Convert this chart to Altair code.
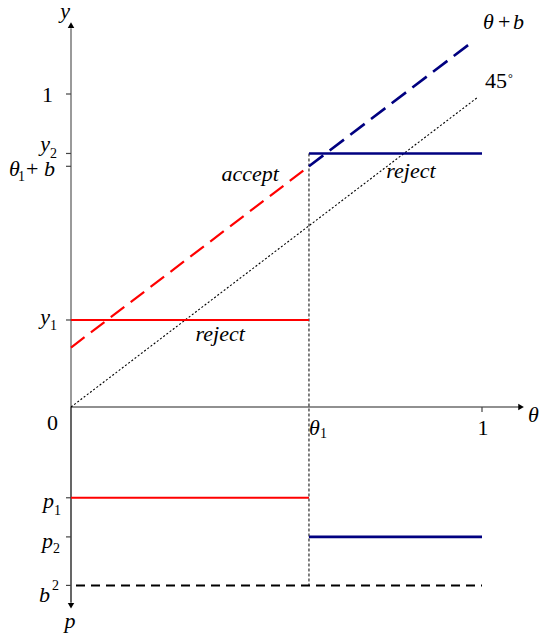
import altair as alt
import pandas as pd

# ---- model values -------------------------------------------------------
THETA_1 = 0.579          # threshold type
B = 0.19                 # bias b
Y1 = 0.278               # low report
Y2 = 0.81                # high report
THETA_LINE_END = 0.98    # where the θ+b line stops
DIAG_END = 0.99          # where the 45° line stops

# lower panel: values measured downward along the p axis
P_LABELS = ["p1", "p2", "b2"]
P_VALUES = [0.29, 0.415, 0.57]
P1, P2, B_SQ = P_VALUES

# axis extents
Y_AXIS_TOP = 1.21
P_AXIS_END = 0.625
THETA_AXIS_END = 1.09

# annotation anchors (θ, y)
WORD_LABELS = ["accept", "reject", "reject"]
WORD_X = [0.436, 0.363, 0.827]
WORD_Y = [0.722, 0.211, 0.732]

# ---- canvas / scales ----------------------------------------------------
W, H = 544, 640
ORIGIN_X, ORIGIN_Y = 71, 407       # pixel location of (0, 0)
UNIT_X, UNIT_Y = 411, 313          # pixels per unit along θ and y

xs = alt.Scale(domain=[-ORIGIN_X / UNIT_X, (W - ORIGIN_X) / UNIT_X], nice=False, zero=False)
ys = alt.Scale(domain=[-(H - ORIGIN_Y) / UNIT_Y, ORIGIN_Y / UNIT_Y], nice=False, zero=False)

FONT = "Liberation Serif"
RED = "#ff0000"
NAVY = "#000080"


def seg(rows, color, width, dash=None):
    df = pd.DataFrame(rows, columns=["x", "y", "x2", "y2"])
    kw = dict(color=color, strokeWidth=width)
    if dash:
        kw["strokeDash"] = dash
    return alt.Chart(df).mark_rule(**kw).encode(
        x=alt.X("x:Q", scale=xs, axis=None),
        y=alt.Y("y:Q", scale=ys, axis=None),
        x2="x2:Q",
        y2="y2:Q",
    )


def arrow(x, y, shape):
    df = pd.DataFrame({"x": [x], "y": [y]})
    return alt.Chart(df).mark_point(shape=shape, filled=True, size=42, color="black", opacity=1).encode(
        x=alt.X("x:Q", scale=xs, axis=None),
        y=alt.Y("y:Q", scale=ys, axis=None),
    )


def txt(x, y, text, dx=0, dy=0, size=22, italic=True, align="left"):
    df = pd.DataFrame({"x": [x], "y": [y], "t": [text]})
    return alt.Chart(df).mark_text(
        dx=dx, dy=dy, align=align, baseline="alphabetic", font=FONT,
        fontSize=size, fontStyle="italic" if italic else "normal", color="black",
    ).encode(
        x=alt.X("x:Q", scale=xs, axis=None),
        y=alt.Y("y:Q", scale=ys, axis=None),
        text="t:N",
    )


layers = []

# axes
layers.append(seg([[0, 0, 0, Y_AXIS_TOP]], "#9a9a9a", 2))
layers.append(seg([[0, 0, 0, -P_AXIS_END]], "black", 1.2))
layers.append(seg([[0, 0, THETA_AXIS_END, 0]], "#222222", 1.2))
layers.append(arrow(0, Y_AXIS_TOP + 0.01, "triangle-up"))
layers.append(arrow(0, -P_AXIS_END - 0.01, "triangle-down"))
layers.append(arrow(THETA_AXIS_END + 0.005, 0, "triangle-right"))

# ticks on the vertical axis
tick_len = 5 / UNIT_X
tick_levels = [1, Y2, THETA_1 + B, Y1, -P1, -P2, -B_SQ]
layers.append(seg([[-tick_len, v, 0, v] for v in tick_levels], "#444444", 1.2))
# tick at θ = 1
layers.append(seg([[1, 0, 1, -5 / UNIT_Y]], "#444444", 1.2))

# 45° line and θ1 guide
layers.append(seg([[0, 0, DIAG_END, DIAG_END]], "black", 1.1, [2, 2]))
layers.append(seg([[THETA_1, Y2, THETA_1, -B_SQ]], "black", 1, [3, 2]))

# θ + b line: red below θ1, navy above
layers.append(seg([[0, B, THETA_1, THETA_1 + B]], RED, 2.2, [17, 8]))
layers.append(seg([[THETA_1, THETA_1 + B, THETA_LINE_END, THETA_LINE_END + B]], NAVY, 2.6, [18, 8]))

# report levels
layers.append(seg([[0, Y1, THETA_1, Y1]], RED, 2.2))
layers.append(seg([[THETA_1, Y2, 1, Y2]], NAVY, 2.6))

# lower panel
layers.append(seg([[0, -P1, THETA_1, -P1]], RED, 2.2))
layers.append(seg([[THETA_1, -P2, 1, -P2]], NAVY, 2.6))
layers.append(seg([[5 / UNIT_X, -B_SQ, 1, -B_SQ]], "black", 2, [9, 6]))

# vertical axis labels
layers.append(txt(0, Y_AXIS_TOP, "y", dx=-6, dy=-10, align="center"))
layers.append(txt(0, 1, "1", dx=-18, dy=8, italic=False, align="right"))
layers.append(txt(0, Y2, "y", dx=-21, dy=-2, align="right"))
layers.append(txt(0, Y2, "2", dx=-21, dy=5, size=14, italic=False))
layers.append(txt(0, THETA_1 + B, "θ", dx=-62, dy=10))
layers.append(txt(0, THETA_1 + B, "1", dx=-53, dy=15, size=14, italic=False))
layers.append(txt(0, THETA_1 + B, "+", dx=-45, dy=10, italic=False))
layers.append(txt(0, THETA_1 + B, "b", dx=-27, dy=10))
layers.append(txt(0, Y1, "y", dx=-21, dy=4, align="right"))
layers.append(txt(0, Y1, "1", dx=-21, dy=10, size=14, italic=False))
layers.append(txt(0, 0, "0", dx=-13, dy=23, italic=False, align="right"))

# horizontal axis labels
layers.append(txt(THETA_1, 0, "θ", dx=0, dy=28))
layers.append(txt(THETA_1, 0, "1", dx=11, dy=31, size=14, italic=False))
layers.append(txt(1, 0, "1", dx=1, dy=28, italic=False, align="center"))
layers.append(txt(1, 0, "θ", dx=46, dy=15))

# lower panel labels
layers.append(txt(0, -P1, "p", dx=-17, dy=10, align="right"))
layers.append(txt(0, -P1, "1", dx=-17, dy=17, size=14, italic=False))
layers.append(txt(0, -P2, "p", dx=-18, dy=11, align="right"))
layers.append(txt(0, -P2, "2", dx=-18, dy=16, size=14, italic=False))
layers.append(txt(0, -B_SQ, "b", dx=-21, dy=17, align="right"))
layers.append(txt(0, -B_SQ, "2", dx=-19, dy=5, size=14, italic=False))
layers.append(txt(0, -P_AXIS_END, "p", dx=-1, dy=25, align="center"))

# line labels
layers.append(txt(1, 1 + B, "θ", dx=1, dy=-6))
layers.append(txt(1, 1 + B, "+", dx=16, dy=-6, italic=False))
layers.append(txt(1, 1 + B, "b", dx=31, dy=-6))
layers.append(txt(1, 1, "45", dx=3, dy=-6, italic=False))
layers.append(txt(1, 1, "°", dx=26, dy=-12, size=12, italic=False))

# region labels
for word, wx, wy in zip(WORD_LABELS, WORD_X, WORD_Y):
    layers.append(txt(wx, wy, word, align="center"))

chart = alt.layer(*layers).properties(
    width=W,
    height=H,
    padding=0,
    autosize=alt.AutoSizeParams(type="none"),
).configure_view(stroke=None)

chart.save("out.html", embed_options={"renderer": "svg", "actions": False})
